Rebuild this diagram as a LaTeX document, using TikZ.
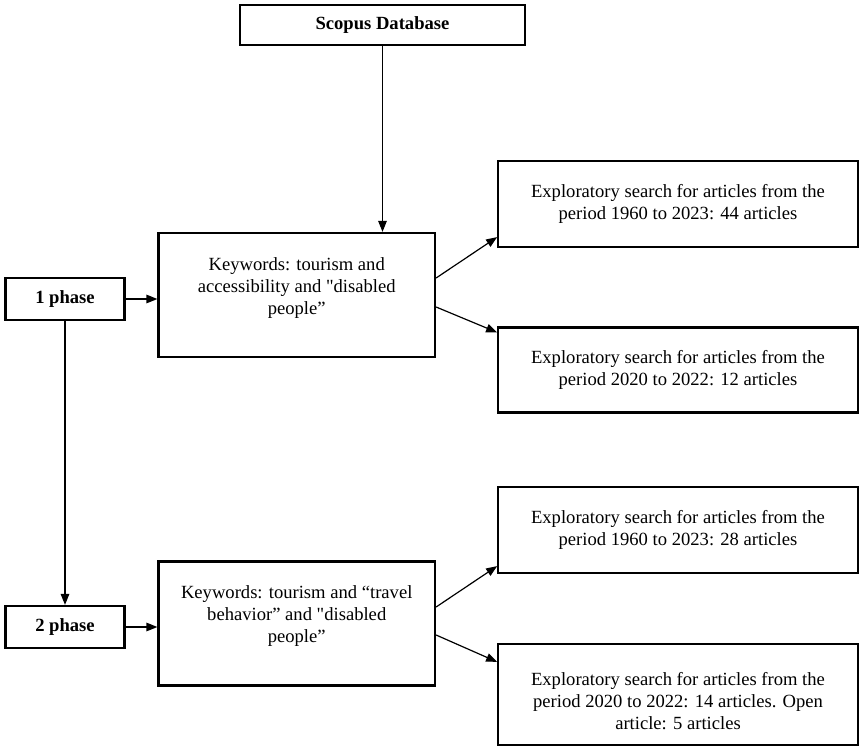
\documentclass[tikz,border=0pt]{standalone}
\usepackage{fontspec}
\setmainfont{Liberation Serif}
\usetikzlibrary{arrows.meta, calc}

\begin{document}
\begin{tikzpicture}[x=1pt, y=1pt,
    every node/.style={font=\fontsize{18.6}{22}\selectfont},
    box/.style={draw, line width=2.2pt, inner sep=2pt, align=center},
    head/.style={box, font=\fontsize{18.6}{22}\selectfont\bfseries},
    res/.style={box, minimum width=359.5, minimum height=86},
    keybox/.style={box, minimum width=276.5, minimum height=124},
    txt/.style={align=center},
    arr/.style={-{Triangle[length=11pt,width=8.5pt]}, line width=1.2pt}
]
\useasboundingbox (0,0) rectangle (860,-755);
% Source
\node[head, minimum width=285, minimum height=40] (db) at (382.5,-25) {Scopus Database};
% Phases
\node[head, minimum width=119, minimum height=42] (ph1) at (65,-299) {1 phase};
\node[head, minimum width=119, minimum height=42] (ph2) at (65,-627) {2 phase};
% Keyword boxes
\node[keybox, label={[txt, yshift=7]center:Keywords: tourism and\\ accessibility and \textquotedbl disabled\\ people”}] (key1) at (296.75,-295) {};
\node[keybox, label={[txt, yshift=7.5]center:Keywords: tourism and “travel\\ behavior” and \textquotedbl disabled\\ people”}] (key2) at (296.75,-623.5) {};
% Results
\node[res] (resA) at (678,-204) {Exploratory search for articles from the\\ period 1960 to 2023: 44 articles};
\node[res, minimum height=85] (resB) at (678,-370) {Exploratory search for articles from the\\ period 2020 to 2022: 12 articles};
\node[res] (resC) at (678,-530) {Exploratory search for articles from the\\ period 1960 to 2023: 28 articles};
\node[res, minimum height=101, label={[txt, yshift=-6.5]center:Exploratory search for articles from the\\ period 2020 to 2022: 14 articles. Open\\ article: 5 articles}] (resD) at (678,-694.5) {};
% Arrows
\draw[arr] (db.south) -- (db.south |- key1.north);
\draw[arr] (ph1.east) -- (ph1.east -| key1.west);
\draw[arr] (ph1.south) -- (ph2.north);
\draw[arr] (ph2.east) -- (ph2.east -| key2.west);
\draw[arr] ($(key1.east)+(0,17)$) -- ($(resA.south west)+(0,11)$);
\draw[arr] ($(key1.east)+(0,-12)$) -- ($(resB.north west)+(0,-6)$);
\draw[arr] ($(key2.east)+(0,16.5)$) -- ($(resC.south west)+(0,8)$);
\draw[arr] ($(key2.east)+(0,-11.5)$) -- ($(resD.north west)+(0,-19)$);
\end{tikzpicture}
\end{document}
